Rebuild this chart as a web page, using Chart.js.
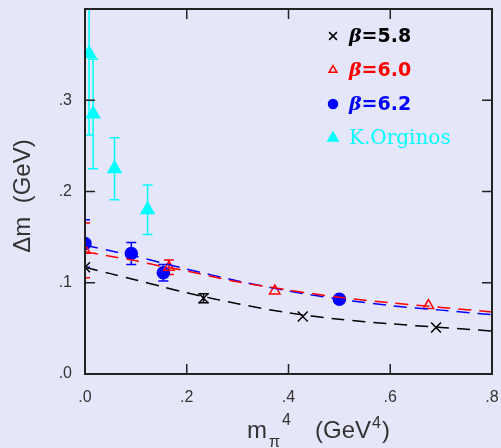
<!DOCTYPE html>
<html>
<head>
<meta charset="utf-8">
<script src="https://cdn.jsdelivr.net/npm/chart.js@4"></script>
<style>
  html, body { margin: 0; padding: 0; background: #e6e6fa; }
  #wrap { width: 501px; height: 448px; }
</style>
</head>
<body>
<div id="wrap"><canvas id="chart1" width="501" height="448"></canvas></div>
<script>
// measured points
const b58X = [0.0, 0.233, 0.428, 0.69]
const b58Y = [0.117, 0.083, 0.063, 0.051]
const b58E = [0, 0.005, 0, 0]

const b60X = [0.0, 0.165, 0.373, 0.675]
const b60Y = [0.1355, 0.117, 0.091, 0.075]
const b60E = [0.03, 0.008, 0, 0]

const b62X = [0.0, 0.091, 0.154, 0.5]
const b62Y = [0.143, 0.132, 0.111, 0.082]
const b62E = [0.026, 0.012, 0.009, 0.004]

const korgX = [0.008, 0.016, 0.058, 0.123]
const korgY = [0.351, 0.285, 0.225, 0.18]
const korgE = [0.089, 0.06, 0.034, 0.027]

// dashed fit curves
const fitX   = [0.0, 0.05, 0.1, 0.15, 0.2, 0.3, 0.4, 0.5, 0.6, 0.7, 0.8]
const fit58  = [0.117, 0.110, 0.103, 0.096, 0.089, 0.077, 0.067, 0.060, 0.055, 0.051, 0.047]
const fit60  = [0.134, 0.129, 0.124, 0.118, 0.113, 0.101, 0.092, 0.084, 0.078, 0.073, 0.068]
const fit62  = [0.141, 0.135, 0.129, 0.122, 0.115, 0.102, 0.091, 0.082, 0.075, 0.070, 0.065]

const xTicks = [0, 0.2, 0.4, 0.6, 0.8]
const yTicks = [0, 0.1, 0.2, 0.3]

const legendLabels = ['β=5.8', 'β=6.0', 'β=6.2', 'K.Orginos']

const pts = (xs, ys) => xs.map((x, i) => ({x: x, y: ys[i]}))
const fmt = v => v.toFixed(1).replace(/^0/, '')
const SANS = '"Liberation Sans", Arial, sans-serif'

function curve(ys, color) {
  return {
    data: pts(fitX, ys), showLine: true, pointRadius: 0, borderColor: color,
    borderWidth: 1.5, borderDash: [13, 8], fill: false, tension: 0.3
  }
}
function marks(xs, ys, errs, color, style, filled, r, lr) {
  return {
    data: pts(xs, ys), errs: errs, legendR: lr, showLine: false, pointStyle: style,
    pointRadius: r, pointBorderColor: color, pointBackgroundColor: filled ? color : 'rgba(0,0,0,0)',
    pointBorderWidth: 1.5, borderColor: color
  }
}

const errorBars = {
  id: 'errorBars',
  beforeDatasetsDraw(chart) {
    const ctx = chart.ctx, a = chart.chartArea
    const xs = chart.scales.x, ys = chart.scales.y
    ctx.save()
    ctx.beginPath(); ctx.rect(a.left, a.top, a.right - a.left, a.bottom - a.top); ctx.clip()
    chart.data.datasets.forEach(ds => {
      if (!ds.errs) return
      ctx.strokeStyle = ds.borderColor; ctx.lineWidth = 1.5
      ds.data.forEach((p, i) => {
        const e = ds.errs[i]
        if (!e) return
        const px = xs.getPixelForValue(p.x)
        const y1 = ys.getPixelForValue(p.y + e), y2 = ys.getPixelForValue(p.y - e)
        ctx.beginPath()
        ctx.moveTo(px, y1); ctx.lineTo(px, y2)
        ctx.moveTo(px - 5, y1); ctx.lineTo(px + 5, y1)
        ctx.moveTo(px - 5, y2); ctx.lineTo(px + 5, y2)
        ctx.stroke()
      })
    })
    ctx.restore()
  }
}

const frame = {
  id: 'frame',
  afterDraw(chart) {
    const ctx = chart.ctx, a = chart.chartArea
    const xs = chart.scales.x, ys = chart.scales.y
    ctx.save()
    ctx.strokeStyle = '#222'; ctx.lineWidth = 2
    ctx.strokeRect(a.left, a.top, a.right - a.left, a.bottom - a.top)
    ctx.lineWidth = 1.5
    ctx.beginPath()
    xTicks.slice(1, -1).forEach(v => {
      const px = xs.getPixelForValue(v)
      ctx.moveTo(px, a.bottom); ctx.lineTo(px, a.bottom - 10)
      ctx.moveTo(px, a.top); ctx.lineTo(px, a.top + 10)
    })
    yTicks.slice(1).forEach(v => {
      const py = ys.getPixelForValue(v)
      ctx.moveTo(a.left, py); ctx.lineTo(a.left + 10, py)
      ctx.moveTo(a.right, py); ctx.lineTo(a.right - 10, py)
    })
    ctx.stroke()

    // axis titles
    ctx.fillStyle = '#333'
    ctx.textBaseline = 'alphabetic'
    ctx.textAlign = 'left'
    const yb = 438
    ctx.font = '24px ' + SANS
    ctx.fillText('m', 247, yb)
    ctx.font = '16px ' + SANS
    ctx.fillText('π', 269, yb + 9)
    ctx.fillText('4', 282, yb - 13)
    ctx.font = '24px ' + SANS
    ctx.fillText('(GeV', 315, yb)
    let w = ctx.measureText('(GeV').width
    ctx.font = '16px ' + SANS
    ctx.fillText('4', 316 + w, yb - 10)
    ctx.font = '24px ' + SANS
    ctx.fillText(')', 326 + w, yb)

    ctx.translate(30, 196); ctx.rotate(-Math.PI / 2)
    ctx.textAlign = 'center'
    ctx.fillText('Δm  (GeV)', 0, 0)
    ctx.restore()
  }
}

const legendPlugin = {
  id: 'legendBox',
  afterDraw(chart) {
    const ctx = chart.ctx
    const rows = [36, 70, 104, 138]
    const sets = chart.data.datasets.slice(3)
    sets.forEach((ds, i) => {
      const y = rows[i]
      ctx.save()
      ctx.strokeStyle = ds.pointBorderColor
      ctx.fillStyle = ds.pointBackgroundColor
      ctx.lineWidth = 1.5
      Chart.helpers.drawPoint(ctx, {pointStyle: ds.pointStyle, radius: ds.legendR, borderWidth: 1.5}, 333, y)
      ctx.fillStyle = ds.pointBorderColor
      ctx.textBaseline = 'middle'
      ctx.textAlign = 'left'
      const lbl = legendLabels[i]
      if (i < 3) {
        ctx.font = 'italic bold 19px "DejaVu Serif", serif'
        ctx.fillText('β', 349, y + 1)
        const w = ctx.measureText('β').width
        ctx.font = 'bold 19px "DejaVu Sans", sans-serif'
        ctx.fillText(lbl.slice(1), 349 + w, y + 1)
      } else {
        ctx.font = '20px "DejaVu Serif", serif'
        ctx.fillText(lbl, 349, y + 1)
      }
      ctx.restore()
    })
  }
}

const noPad = s => { s.paddingLeft = 0; s.paddingRight = 0; s.paddingTop = 0; s.paddingBottom = 0 }

new Chart(document.getElementById('chart1'), {
  type: 'scatter',
  data: {
    datasets: [
      curve(fit58, '#000000'),
      curve(fit60, '#ff0000'),
      curve(fit62, '#0000ff'),
      marks(b58X, b58Y, b58E, '#000000', 'crossRot', false, 7, 5.5),
      marks(b60X, b60Y, b60E, '#ff0000', 'triangle', false, 6, 4.5),
      marks(b62X, b62Y, b62E, '#0000ff', 'circle', true, 6, 4.5),
      marks(korgX, korgY, korgE, '#00ffff', 'triangle', true, 7.5, 6)
    ]
  },
  options: {
    responsive: false,
    animation: false,
    layout: {padding: {top: 8, right: 5, left: 0, bottom: 0}},
    plugins: {legend: {display: false}, tooltip: {enabled: false}},
    scales: {
      x: {
        type: 'linear', min: 0, max: 0.8,
        afterBuildTicks: s => { s.ticks = xTicks.map(v => ({value: v})) },
        afterFit: s => { s.height = 74; noPad(s) },
        grid: {display: false, drawTicks: false},
        border: {display: false},
        ticks: {callback: fmt, padding: 14, color: '#333', maxRotation: 0,
                font: {size: 16, family: SANS}}
      },
      y: {
        type: 'linear', min: 0, max: 0.4,
        afterBuildTicks: s => { s.ticks = yTicks.map(v => ({value: v})) },
        afterFit: s => { s.width = 85; noPad(s) },
        grid: {display: false, drawTicks: false},
        border: {display: false},
        ticks: {callback: fmt, padding: 13, color: '#333',
                font: {size: 16, family: SANS}}
      }
    }
  },
  plugins: [errorBars, frame, legendPlugin]
})
</script>
</body>
</html>
